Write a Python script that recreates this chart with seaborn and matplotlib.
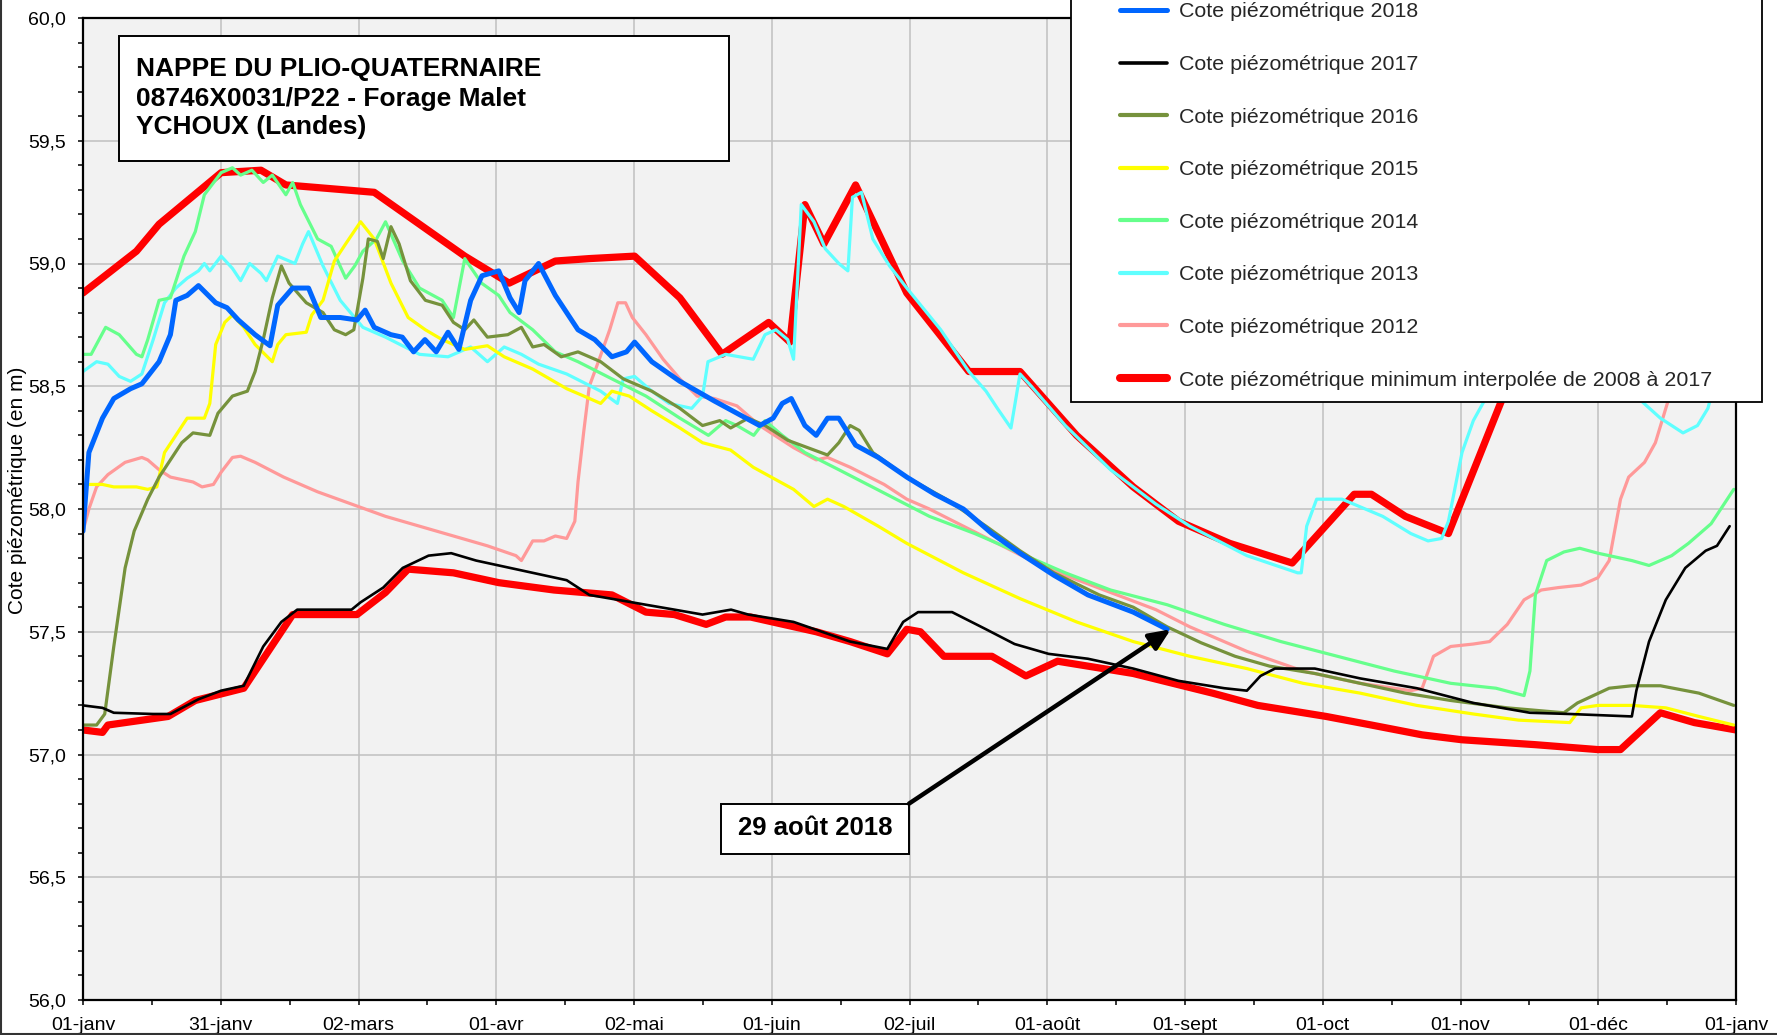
import matplotlib
matplotlib.use('Agg')
import matplotlib.pyplot as plt
import seaborn as sns
from matplotlib.patches import Rectangle
from matplotlib.lines import Line2D
from matplotlib.ticker import MultipleLocator, FixedLocator, FuncFormatter

# day of year (0 = 01-janv) and water level (m)
max_days = [0, 11.8, 16.8, 30.5, 39.3, 44.8, 64.3, 84.3, 94.1, 104.3, 111.8, 121.8, 131.8, 141.1,
            151.4, 156.1, 159.4, 163.6, 170.6, 181.9, 195.6, 206.9, 219.4, 231.9, 241.9, 253.2,
            267, 280.7, 284.5, 292, 301.5, 314.5, 322, 340, 365]
max_vals = [58.88, 59.05, 59.16, 59.37, 59.38, 59.32, 59.29, 59.03, 58.92, 59.01, 59.02, 59.03, 58.86, 58.63,
            58.76, 58.68, 59.24, 59.08, 59.32, 58.88, 58.56, 58.56, 58.30, 58.09, 57.95, 57.86,
            57.78, 58.06, 58.06, 57.97, 57.90, 58.50, 58.95, 59.05, 59.00]

min_days = [0, 4.3, 5.5, 18.8, 24.8, 35.5, 46.3, 60.5, 66.8, 71.8, 81.8, 91.8, 104, 116.8, 124.3,
            130.6, 137.6, 141.9, 147.4, 161.9, 169.4, 177.6, 181.9, 184.9, 190.1, 200.7, 208.2,
            215.2, 231.9, 249.4, 259.4, 274.5, 284.5, 295.7, 304.5, 320.7, 334.5, 339.5, 348.3,
            355.8, 365]
min_vals = [57.10, 57.09, 57.12, 57.155, 57.22, 57.27, 57.57, 57.57, 57.66, 57.755, 57.74, 57.70, 57.67,
            57.65, 57.58, 57.57, 57.53, 57.56, 57.56, 57.50, 57.46, 57.41, 57.51, 57.50, 57.40, 57.40,
            57.32, 57.38, 57.33, 57.25, 57.20, 57.155, 57.12, 57.08, 57.06, 57.04, 57.02, 57.02,
            57.17, 57.13, 57.10]

days_2018 = [0, 1.3, 4.3, 6.8, 10.5, 13, 16.8, 19.3, 20.5, 23, 25.5, 29.3, 31.8, 34.3, 38, 41.3, 43,
             46.3, 49.8, 52.5, 56.8, 60.5, 62.3, 64.3, 68, 70.5, 73, 75.5, 78, 80.6, 83, 85.6, 88.1,
             91.8, 94.3, 96.3, 97.6, 100.6, 104.3, 109.3, 113, 116.8, 120, 121.8, 125.6, 131.8,
             139.4, 144.4, 149.4, 152.4, 154.4, 156.4, 159.4, 161.9, 164.4, 166.9, 170.6, 175.6,
             181.9, 188.1, 194.4, 200.7, 206.9, 214.4, 221.9, 231.9, 239.4]
vals_2018 = [57.91, 58.23, 58.37, 58.45, 58.49, 58.51, 58.60, 58.71, 58.85, 58.87, 58.91, 58.84, 58.82,
             58.77, 58.71, 58.665, 58.83, 58.90, 58.90, 58.78, 58.78, 58.77, 58.81, 58.74, 58.71, 58.70,
             58.64, 58.69, 58.64, 58.72, 58.65, 58.85, 58.95, 58.97, 58.86, 58.80, 58.93, 59.00, 58.87,
             58.73, 58.69, 58.62, 58.64, 58.68, 58.60, 58.52, 58.44, 58.39, 58.34, 58.37, 58.43, 58.45,
             58.34, 58.30, 58.37, 58.37, 58.26, 58.21, 58.13, 58.06, 58.00, 57.90, 57.82, 57.73, 57.65,
             57.58, 57.51]

days_2017 = [0, 4.3, 6.8, 15.5, 19.3, 25.5, 30.5, 35.5, 39.8, 43.8, 47.3, 59.3, 61.3, 66.3, 70.6, 76.3,
             81.3, 86.8, 94.3, 99.3, 106.8, 111.8, 118.1, 124.3, 130.6, 136.8, 143.1, 146.9, 156.9,
             169.4, 177.6, 181.1, 184.4, 191.9, 199.4, 205.7, 213.2, 221.9, 231.9, 241.9, 252, 257,
             260, 263.2, 272, 282, 294.5, 307, 319.5, 328.3, 342, 343, 345.8, 349.5, 353.8, 358.3,
             360.8, 363.6]
vals_2017 = [57.20, 57.19, 57.17, 57.165, 57.165, 57.225, 57.26, 57.28, 57.44, 57.54, 57.59, 57.59, 57.62,
             57.68, 57.76, 57.81, 57.82, 57.79, 57.76, 57.74, 57.71, 57.65, 57.63, 57.61, 57.59, 57.57,
             57.59, 57.57, 57.54, 57.46, 57.43, 57.54, 57.58, 57.58, 57.51, 57.45, 57.41, 57.39, 57.35,
             57.30, 57.27, 57.26, 57.32, 57.35, 57.35, 57.31, 57.27, 57.21, 57.17, 57.165, 57.155,
             57.26, 57.46, 57.63, 57.76, 57.83, 57.85, 57.93]

days_2016 = [0, 3, 4.8, 6.8, 9.3, 11.3, 14.3, 16.8, 19.3, 21.8, 24.3, 28, 29.8, 33, 36.3, 38, 39.8,
             41.8, 43.8, 45.5, 49.3, 53, 55.5, 58, 59.8, 61.8, 63, 65, 66.3, 68, 69.8, 72.3, 75.6,
             79.3, 81.8, 84.3, 86.3, 89.3, 93.8, 96.8, 99.3, 101.8, 105.6, 109.3, 114.3, 119.3, 125.6,
             131.8, 136.8, 140.6, 143, 146.9, 150.6, 155.6, 164.4, 166.9, 169.4, 171.4, 174.4, 181.9,
             190.6, 199.4, 206.9, 214.4, 224.4, 231.9, 239.4, 246.9, 254.4, 262, 272, 282, 292, 302,
             314.5, 327, 330, 337, 342, 348.3, 356.8, 364.5]
vals_2016 = [57.12, 57.12, 57.165, 57.44, 57.76, 57.91, 58.04, 58.13, 58.20, 58.27, 58.31, 58.30, 58.39,
             58.46, 58.48, 58.56, 58.69, 58.86, 58.99, 58.92, 58.84, 58.80, 58.73, 58.71, 58.73, 58.94,
             59.10, 59.09, 59.02, 59.15, 59.08, 58.93, 58.85, 58.83, 58.76, 58.73, 58.77, 58.70, 58.71,
             58.74, 58.66, 58.67, 58.62, 58.64, 58.60, 58.53, 58.48, 58.41, 58.34, 58.36, 58.33, 58.37,
             58.34, 58.28, 58.22, 58.27, 58.34, 58.32, 58.23, 58.13, 58.04, 57.93, 57.83, 57.74, 57.65,
             57.60, 57.52, 57.455, 57.40, 57.36, 57.33, 57.29, 57.25, 57.22, 57.19, 57.17, 57.21, 57.27,
             57.28, 57.28, 57.25, 57.20]

days_2015 = [0, 4.3, 6.8, 11.8, 14.3, 16.3, 18, 20.5, 23, 26.8, 28, 29.3, 31.3, 33, 35.5, 38, 41.8,
             43, 44.8, 49.3, 50.5, 53, 55.5, 58, 61.3, 64.3, 68, 71.8, 75.6, 79.3, 84.3, 89.3, 93,
             99.3, 106.8, 110.6, 114.3, 116.8, 120.6, 125.6, 131.8, 136.8, 143, 148, 156.9, 161.4,
             164.4, 168, 175.6, 181.9, 194.4, 206.9, 219.4, 231.9, 244.4, 257, 269.4, 282, 294.5, 307,
             317, 328.3, 330.8, 334.5, 342, 349.5, 356.8, 364.5]
vals_2015 = [58.10, 58.10, 58.09, 58.09, 58.08, 58.09, 58.23, 58.30, 58.37, 58.37, 58.43, 58.67, 58.76,
             58.79, 58.74, 58.67, 58.60, 58.67, 58.71, 58.72, 58.79, 58.85, 59.01, 59.08, 59.17, 59.10,
             58.92, 58.78, 58.73, 58.69, 58.65, 58.665, 58.62, 58.57, 58.49, 58.46, 58.43, 58.48, 58.46,
             58.40, 58.33, 58.27, 58.24, 58.17, 58.08, 58.01, 58.04, 58.01, 57.93, 57.86, 57.74, 57.635,
             57.54, 57.46, 57.40, 57.35, 57.29, 57.25, 57.20, 57.165, 57.14, 57.13, 57.19, 57.20, 57.20,
             57.19, 57.155, 57.12]

days_2014 = [0, 1.8, 5, 8, 11.8, 13, 14.3, 16.8, 19.3, 22.3, 24.8, 26.8, 30.5, 33, 34.8, 37.3, 39.8,
             41.8, 44.8, 46.3, 48, 51.8, 54.8, 58, 60, 61.8, 64.8, 66.8, 70.6, 74.3, 79.3, 81.8, 84.3,
             88, 91.8, 94.3, 99.3, 104.3, 109.3, 116.8, 124.3, 131.8, 138.1, 141.9, 144.4, 148.1,
             150.6, 154.4, 159.4, 166.9, 176.9, 186.9, 196.9, 206.9, 216.9, 226.9, 239.4, 252, 264.5,
             277, 289.5, 302, 312, 318.2, 319.5, 320.7, 323.2, 327, 330.5, 334.5, 342, 345.8, 350.8,
             354.5, 359.5, 364.5]
vals_2014 = [58.63, 58.63, 58.74, 58.71, 58.63, 58.62, 58.69, 58.85, 58.86, 59.03, 59.13, 59.28, 59.37,
             59.39, 59.36, 59.38, 59.33, 59.36, 59.28, 59.33, 59.24, 59.10, 59.07, 58.94, 58.99, 59.05,
             59.10, 59.17, 59.01, 58.90, 58.85, 58.78, 59.02, 58.92, 58.87, 58.80, 58.73, 58.64, 58.60,
             58.53, 58.46, 58.37, 58.30, 58.36, 58.34, 58.30, 58.36, 58.30, 58.23, 58.16, 58.065, 57.97,
             57.90, 57.82, 57.74, 57.67, 57.61, 57.53, 57.46, 57.40, 57.34, 57.29, 57.27, 57.24, 57.34,
             57.65, 57.79, 57.825, 57.84, 57.82, 57.79, 57.77, 57.81, 57.86, 57.94, 58.08]

days_2013 = [0, 3, 5.5, 8, 10.5, 13, 15.5, 18, 20.5, 23, 25.5, 26.8, 28, 30.5, 33, 34.8, 36.8, 39.3,
             40.5, 43, 46.8, 48.5, 49.8, 53, 56.8, 61.8, 66.8, 74.3, 80.6, 85.6, 89.3, 93, 96.8, 100.6,
             106.8, 114.3, 118, 119.3, 121.8, 125.6, 129.4, 134.4, 136.8, 138, 141.9, 148, 150.6, 153,
             155.6, 156.9, 158.6, 161.4, 163.9, 166.9, 168.9, 169.9, 171.9, 174.4, 178.1, 181.9, 189.4,
             195.6, 199.4, 201.9, 204.9, 206.9, 209.4, 216.9, 226.9, 236.9, 244.4, 257, 268.2, 269,
             270.2, 272.4, 278, 287, 293.2, 297, 300, 301.5, 304.5, 307, 310.6, 313.5, 325, 339.5,
             342.9, 348.3, 353.3, 356.5, 358.8, 360.8, 365]
vals_2013 = [58.56, 58.60, 58.59, 58.54, 58.52, 58.55, 58.69, 58.84, 58.90, 58.94, 58.97, 59.00, 58.97,
             59.03, 58.98, 58.93, 59.00, 58.96, 58.93, 59.03, 59.00, 59.08, 59.13, 58.99, 58.85, 58.74,
             58.70, 58.63, 58.62, 58.66, 58.60, 58.66, 58.63, 58.59, 58.55, 58.48, 58.43, 58.53, 58.54,
             58.48, 58.43, 58.41, 58.46, 58.60, 58.63, 58.61, 58.71, 58.73, 58.69, 58.61, 59.24, 59.17,
             59.06, 59.00, 58.97, 59.27, 59.29, 59.10, 58.99, 58.90, 58.73, 58.56, 58.48, 58.41, 58.33,
             58.55, 58.50, 58.34, 58.16, 58.02, 57.93, 57.81, 57.74, 57.74, 57.93, 58.04, 58.04, 57.97,
             57.90, 57.87, 57.88, 57.95, 58.23, 58.36, 58.48, 58.69, 58.75, 58.50, 58.46, 58.37, 58.31,
             58.34, 58.41, 58.55, 58.75]

days_2012 = [0, 1.3, 3, 5.5, 9.3, 13, 14.3, 16.8, 19.3, 21.8, 24.3, 26.3, 28.8, 30.5, 33, 34.8, 38,
             44.3, 51.8, 59.3, 66.8, 74.3, 81.8, 89.3, 95.6, 96.8, 99.3, 101.8, 104.3, 106.8, 108.6,
             109.3, 110.6, 111.8, 113.8, 116.3, 118.1, 119.8, 121.3, 124.3, 128.1, 131.8, 135.6, 139.4,
             144.4, 149.4, 156.9, 161.9, 164.4, 169.4, 176.9, 181.9, 186.9, 194.4, 201.9, 209.4, 216.9,
             226.9, 236.9, 244.4, 257, 269.4, 282, 293.2, 295.7, 298.2, 302, 307, 310.6, 314.5, 318.2,
             322, 325.8, 330.8, 334.5, 337, 339.5, 341.3, 344.8, 347.2, 349.5, 351, 353]
vals_2012 = [57.91, 58.00, 58.09, 58.14, 58.19, 58.21, 58.20, 58.16, 58.13, 58.12, 58.11, 58.09, 58.10,
             58.15, 58.21, 58.215, 58.19, 58.13, 58.07, 58.02, 57.97, 57.93, 57.89, 57.85, 57.81, 57.79,
             57.87, 57.87, 57.89, 57.88, 57.95, 58.11, 58.32, 58.50, 58.60, 58.73, 58.84, 58.84, 58.78,
             58.71, 58.61, 58.53, 58.46, 58.45, 58.42, 58.34, 58.25, 58.20, 58.21, 58.17, 58.10, 58.04,
             58.00, 57.93, 57.86, 57.79, 57.73, 57.66, 57.59, 57.52, 57.42, 57.34, 57.29, 57.26, 57.27,
             57.40, 57.44, 57.45, 57.46, 57.53, 57.63, 57.67, 57.68, 57.69, 57.72, 57.79, 58.04, 58.13,
             58.19, 58.27, 58.41, 58.50, 58.73]

tick_labels = ['01-janv', '31-janv', '02-mars', '01-avr', '02-mai', '01-juin', '02-juil',
               '01-août', '01-sept', '01-oct', '01-nov', '01-déc', '01-janv']

legend_labels = ['Cote piézométrique 2018', 'Cote piézométrique 2017', 'Cote piézométrique 2016',
                 'Cote piézométrique 2015', 'Cote piézométrique 2014', 'Cote piézométrique 2013',
                 'Cote piézométrique 2012', 'Cote piézométrique minimum interpolée de 2008 à 2017']

sns.set_theme(style='white')
plt.rcParams['font.family'] = ['Liberation Sans', 'DejaVu Sans']

W, H = 1777, 1035
fig = plt.figure(figsize=(W / 100, H / 100), dpi=100)
ax = fig.add_axes([83 / W, 1 - 1000 / H, 1653 / W, 982 / H])
ax.set_facecolor('#f2f2f2')

# (days, values, colour, width) in drawing order
series = [
    (max_days, max_vals, '#ff0000', 5.2),
    (min_days, min_vals, '#ff0000', 5.2),
    (days_2012, vals_2012, '#ff9999', 2.3),
    (days_2013, vals_2013, '#5fffff', 2.3),
    (days_2014, vals_2014, '#66ff8c', 2.3),
    (days_2015, vals_2015, '#ffff00', 2.3),
    (days_2016, vals_2016, '#76923c', 2.3),
    (days_2017, vals_2017, '#000000', 1.9),
    (days_2018, vals_2018, '#0066ff', 3.6),
]
for d, v, c, lw in series:
    sns.lineplot(x=d, y=v, ax=ax, color=c, linewidth=lw, sort=False, estimator=None, legend=False)

leg_style = [('#0066ff', 3.6), ('#000000', 2.6), ('#76923c', 3.0), ('#ffff00', 3.0),
             ('#66ff8c', 3.0), ('#5fffff', 3.0), ('#ff9999', 3.0), ('#ff0000', 5.8)]
handles = [Line2D([], [], color=c, lw=lw) for c, lw in leg_style]

ax.set_xlim(0, 365)
ax.set_ylim(56, 60)
ax.set_xticks([i * 365 / 12 for i in range(13)])
ax.set_xticklabels(tick_labels)
ax.xaxis.set_minor_locator(FixedLocator([(i + 0.5) * 365 / 12 for i in range(12)]))
ax.yaxis.set_major_locator(MultipleLocator(0.5))
ax.yaxis.set_minor_locator(MultipleLocator(0.1))
ax.yaxis.set_major_formatter(FuncFormatter(lambda v, p: f'{v:.1f}'.replace('.', ',')))
ax.grid(True, which='major', color='#c0c0c0', lw=1.1)
ax.set_axisbelow(True)
ax.tick_params(which='both', direction='out', length=3.6, width=1.1, color='black',
               labelsize=14, pad=8.5, bottom=True, left=True, labelcolor='black')
for s in ax.spines.values():
    s.set_color('black')
    s.set_linewidth(1.6)

ax.set_xlabel('')
ax.set_ylabel('Cote piézométrique (en m)', fontsize=15, va='center', color='black')
ax.yaxis.set_label_coords(-0.0395, 0.519)

# title box
ax.add_patch(Rectangle((0.0218, 0.854), 0.369, 0.1277, transform=ax.transAxes,
                       facecolor='white', edgecolor='black', lw=1.4, zorder=6))
for txt, yy in zip(['NAPPE DU PLIO-QUATERNAIRE', '08746X0031/P22 - Forage Malet', 'YCHOUX (Landes)'],
                   [0.9481, 0.9175, 0.8890]):
    ax.text(0.0321, yy, txt, transform=ax.transAxes, fontsize=19, fontweight='bold',
            va='center', ha='left', zorder=7, color='black')

# date annotation
ax.add_patch(Rectangle((140.9, 56.595), 41.5, 0.205, facecolor='white', edgecolor='black',
                       lw=1.4, zorder=6))
ax.text(161.6, 56.70, '29 août 2018', fontsize=18.5, fontweight='bold', ha='center',
        va='center', zorder=7, color='black')
ax.annotate('', xy=(240.2, 57.51), xytext=(182.4, 56.80),
            arrowprops=dict(arrowstyle='-|>,head_length=0.8,head_width=0.35', color='black',
                            lw=3.2, shrinkA=0, shrinkB=0, mutation_scale=16), zorder=6)

# legend with its own frame
fig.add_artist(Rectangle((1071 / W, 1 - 402 / H), 691 / W, 0.45, transform=fig.transFigure,
                         facecolor='white', edgecolor='black', lw=1.3, zorder=4))
fig.legend(handles, legend_labels, loc='center left', bbox_to_anchor=(1120 / W, 1 - 196 / H),
           frameon=False, fontsize=15.4, handlelength=2.2, handletextpad=0.56,
           labelspacing=1.57, borderpad=0, borderaxespad=0)

# outer border
fig.add_artist(Line2D([0.0008, 0.0008], [0, 1], transform=fig.transFigure, color='#333333', lw=1.5))
fig.add_artist(Line2D([0, 1], [0.0012, 0.0012], transform=fig.transFigure, color='#333333', lw=1.5))

fig.savefig('out.png', dpi=100)
